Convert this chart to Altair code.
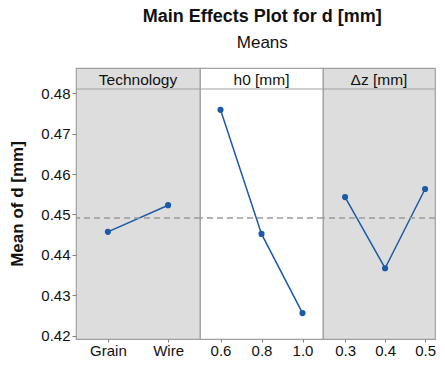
import altair as alt
import pandas as pd

# ---- data ----
tech_levels = ["Grain", "Wire"]
tech_means = [0.4457, 0.4523]
h0_levels = ["0.6", "0.8", "1.0"]
h0_means = [0.4759, 0.4452, 0.4256]
dz_levels = ["0.3", "0.4", "0.5"]
dz_means = [0.4543, 0.4367, 0.4563]
grand_mean = 0.4491
headers = ["Technology", "h0 [mm]", "Δz [mm]"]
y_ticks = [0.42, 0.43, 0.44, 0.45, 0.46, 0.47, 0.48]

BLUE = "#1b5aa8"
GRAY_BG = "#dddddd"
BORDER = "#a0a0a0"
FONT = "Liberation Sans"
HDR = 21
H = 271
PX_PER_UNIT = 4040.0
Y_MIN = 0.41918
Y_MAX = 0.48106 + HDR / PX_PER_UNIT

yscale = alt.Scale(domain=[Y_MIN, Y_MAX], nice=False, zero=False)


def panel(levels, means, header, fill, width, show_y, padding, align=0.5):
    df = pd.DataFrame({"level": levels, "mean": means})
    yaxis = (
        alt.Axis(values=y_ticks, format=".2f", title="Mean of d [mm]", grid=False,
                 domain=False, tickColor="#808080", tickSize=4, labelPadding=2,
                 labelFontSize=15, labelColor="#111", titleFontSize=17,
                 titleFontWeight="bold", titlePadding=14, titleColor="#111")
        if show_y else None
    )
    x = alt.X("level:N", sort=levels,
              scale=alt.Scale(type="point", padding=padding, align=align),
              axis=alt.Axis(title=None, labelAngle=0, domain=False, grid=False,
                            tickColor="#808080", tickSize=3, labelPadding=1,
                            labelFontSize=15, labelColor="#111"))
    base = alt.Chart(df).encode(x=x, y=alt.Y("mean:Q", scale=yscale, axis=yaxis))
    line = base.mark_line(color=BLUE, strokeWidth=1.5)
    pts = base.mark_point(filled=True, size=38, color=BLUE, opacity=1)
    ref = alt.Chart(pd.DataFrame({"m": [grand_mean]})).mark_rule(
        color="#9a9a9a", strokeDash=[6, 4], strokeWidth=1.5
    ).encode(y=alt.Y("m:Q", scale=yscale, axis=yaxis))
    divider = alt.Chart(pd.DataFrame({"d": [0]})).mark_rule(
        color=BORDER, strokeWidth=1
    ).encode(x=alt.value(0), x2=alt.value(width), y=alt.value(HDR))
    txt = alt.Chart(pd.DataFrame({"h": [header]})).mark_text(
        fontSize=15.5, color="#111", baseline="middle", align="center"
    ).encode(text="h:N", x=alt.value(width / 2), y=alt.value(HDR / 2 + 1))
    return alt.layer(line, pts, ref, divider, txt).properties(
        width=width, height=H,
        view=alt.ViewBackground(fill=fill, stroke=BORDER, strokeWidth=1.2),
    )


p1 = panel(tech_levels, tech_means, headers[0], GRAY_BG, 124, True, 0.53)
p2 = panel(h0_levels, h0_means, headers[1], "white", 123, False, 0.5)
p3 = panel(dz_levels, dz_means, headers[2], GRAY_BG, 112, False, 0.4, 0.69)

chart = alt.hconcat(p1, p2, p3, spacing=0, bounds="flush").properties(
    title=alt.TitleParams(
        "Main Effects Plot for d [mm]", subtitle="Means", anchor="middle",
        fontSize=18, fontWeight="bold", color="#111", subtitleFontSize=17,
        subtitleColor="#111", offset=18, subtitlePadding=9, font=FONT,
        subtitleFont=FONT, dx=40, dy=2,
    ),
    padding=0,
).configure(font=FONT).configure_view(stroke=BORDER)

chart.save("out.html", embed_options={"renderer": "svg", "actions": False})
